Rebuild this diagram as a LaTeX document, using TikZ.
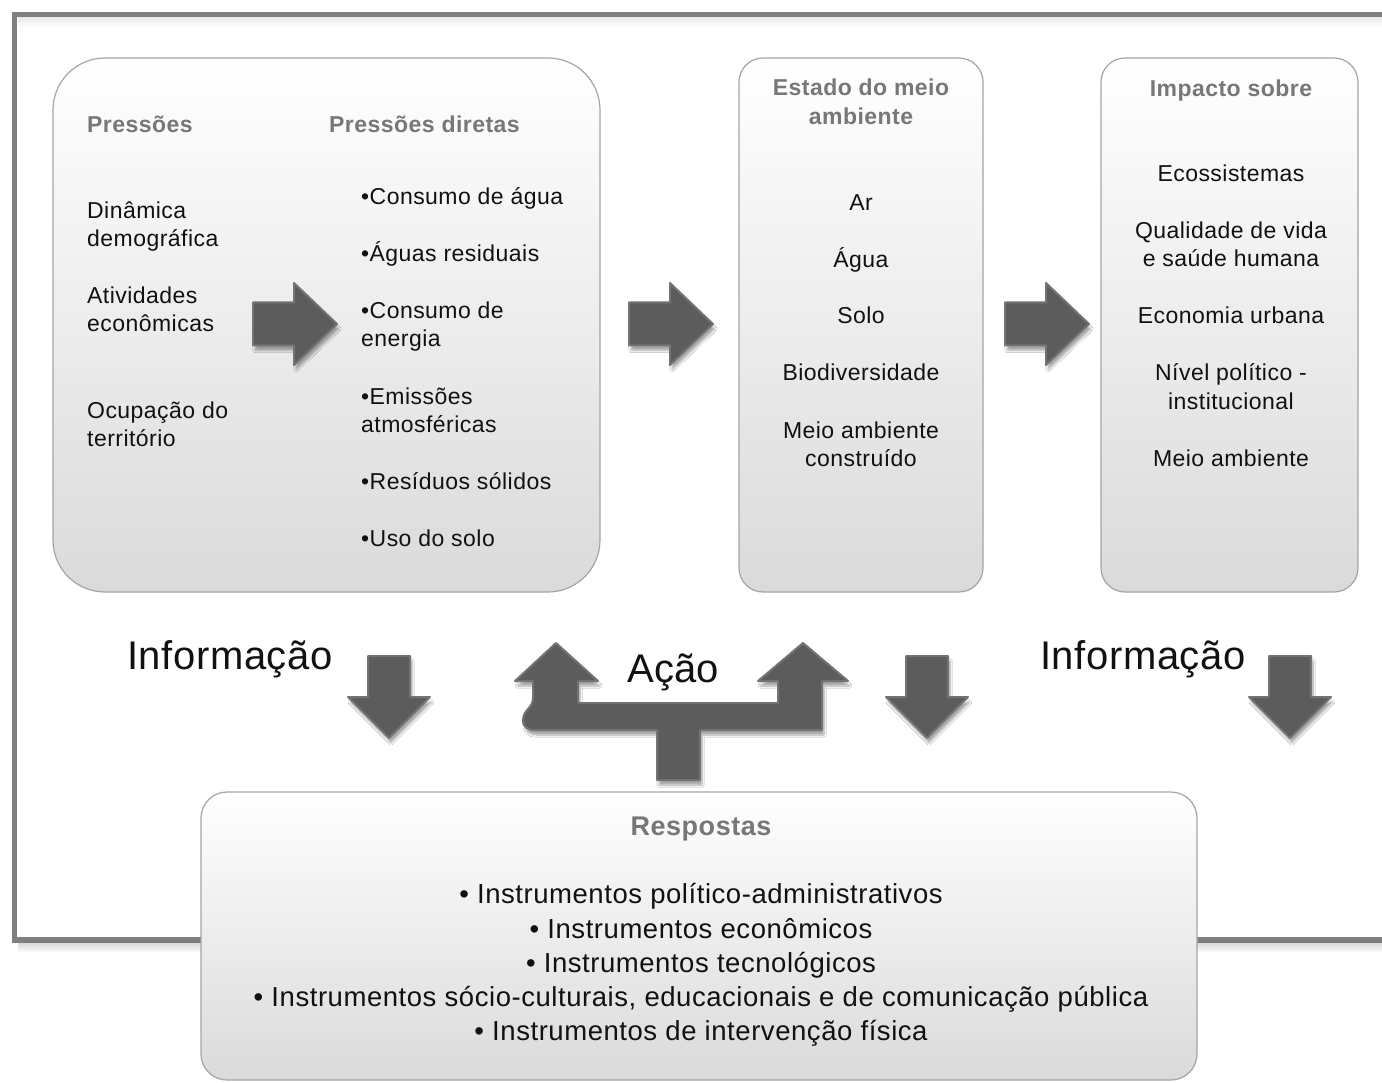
\documentclass[tikz,border=0pt]{standalone}
\usepackage{fontspec}
\setmainfont{Liberation Sans}[LetterSpace=2.0]
\usetikzlibrary{shadows.blur}
\definecolor{framegray}{HTML}{7F7F7F}
\definecolor{hdr}{HTML}{777777}
\definecolor{txt}{HTML}{111111}
\definecolor{arr}{HTML}{5C5C5C}
\definecolor{arredge}{HTML}{737373}
\definecolor{boxbot}{HTML}{DADADA}
\definecolor{boxline}{HTML}{A5A5A5}
\begin{document}
\begin{tikzpicture}[x=1pt,y=-1pt,
  box/.style={draw=boxline, line width=1.2pt, top color=white, bottom color=boxbot, inner sep=0pt},
  hd/.style={font=\fontsize{23}{27}\selectfont\bfseries, text=hdr, inner sep=0pt},
  bt/.style={font=\fontsize{23}{27}\selectfont, text=txt, inner sep=0pt},
  rt/.style={font=\fontsize{27.5}{32}\selectfont, text=txt, inner sep=0pt},
  big/.style={font=\fontsize{40}{46}\selectfont\addfontfeatures{LetterSpace=1.5}, text=txt, inner sep=0pt},
  arrstyle/.style={fill=arr, draw=arredge, line width=2pt, line join=round,
    blur shadow={shadow xshift=2pt, shadow yshift=-5pt, shadow blur steps=8, shadow opacity=35}},
  rarr/.pic={\path[arrstyle] (0,-21.5) -- (41,-21.5) -- (41,-41) -- (84,0) -- (41,41) -- (41,21.5) -- (0,21.5) -- cycle;},
  darr/.pic={\path[arrstyle] (-21,0) -- (21,0) -- (21,41) -- (41,41) -- (0,82) -- (-41,41) -- (-21,41) -- cycle;},
]
\useasboundingbox (0,0) rectangle (1382,1083);
\fill[white] (0,0) rectangle (1382,1083);

% outer frame with soft shadows
\foreach \i in {1,...,10}{
  \draw[black, opacity={0.16-0.015*\i}, line width=1pt] (18,942+\i) -- (1382,942+\i);
  \draw[black, opacity={0.10-0.009*\i}, line width=1pt] (18,17+\i) -- (1382,17+\i);
}
\draw[framegray, line width=5.5pt] (14.5,14.5) rectangle (1392,940);

% boxes
\node[box, rounded corners=52pt, minimum width=547, minimum height=534] (pbox) at (326.5,325) {};
\node[box, rounded corners=24pt, minimum width=244, minimum height=534] (ebox) at (861,325) {};
\node[box, rounded corners=24pt, minimum width=257, minimum height=534] (ibox) at (1229.5,325) {};
\node[box, rounded corners=26pt, minimum width=996, minimum height=288] (rbox) at (699,936) {};

% box 1 text
\node[hd, anchor=base west] (h1) at (87,133) {Pressões};
\node[hd, anchor=base west] (h2) at (329,133) {Pressões diretas};
\node[bt, anchor=base west] (l1) at (87,219) {Dinâmica};
\node[bt, anchor=base west] (l2) at (87,247) {demográfica};
\node[bt, anchor=base west] (l3) at (87,304) {Atividades};
\node[bt, anchor=base west] (l4) at (87,332) {econômicas};
\node[bt, anchor=base west] (l5) at (87,418) {Ocupação do};
\node[bt, anchor=base west] (l6) at (87,446) {território};
\node[bt, anchor=base west] (r1) at (361,205) {•Consumo de água};
\node[bt, anchor=base west] (r2) at (361,262) {•Águas residuais};
\node[bt, anchor=base west] (r3) at (361,319) {•Consumo de};
\node[bt, anchor=base west] (r4) at (361,347) {energia};
\node[bt, anchor=base west] (r5) at (361,404) {•Emissões};
\node[bt, anchor=base west] (r6) at (361,432) {atmosféricas};
\node[bt, anchor=base west] (r7) at (361,489) {•Resíduos sólidos};
\node[bt, anchor=base west] (r8) at (361,546) {•Uso do solo};

% box 2 text
\node[hd, anchor=base] (e0) at (861,96) {Estado do meio};
\node[hd, anchor=base] (e0b) at (861,125) {ambiente};
\node[bt, anchor=base] (e1) at (861,211) {Ar};
\node[bt, anchor=base] (e2) at (861,268) {Água};
\node[bt, anchor=base] (e3) at (861,324) {Solo};
\node[bt, anchor=base] (e4) at (861,381) {Biodiversidade};
\node[bt, anchor=base] (e5) at (861,438) {Meio ambiente};
\node[bt, anchor=base] (e6) at (861,466) {construído};

% box 3 text
\node[hd, anchor=base] (i0) at (1231,97) {Impacto sobre};
\node[bt, anchor=base] (i1) at (1231,182) {Ecossistemas};
\node[bt, anchor=base] (i2) at (1231,239) {Qualidade de vida};
\node[bt, anchor=base] (i3) at (1231,267) {e saúde humana};
\node[bt, anchor=base] (i4) at (1231,324) {Economia urbana};
\node[bt, anchor=base] (i5) at (1231,381) {Nível político -};
\node[bt, anchor=base] (i6) at (1231,409) {institucional};
\node[bt, anchor=base] (i7) at (1231,466) {Meio ambiente};

% respostas text
\node[hd, font=\fontsize{27}{30}\selectfont\bfseries, anchor=base] (s0) at (701,835) {Respostas};
\node[rt, anchor=base] (s1) at (701,903) {• Instrumentos político-administrativos};
\node[rt, anchor=base] (s2) at (701,938) {• Instrumentos econômicos};
\node[rt, anchor=base] (s3) at (701,972) {• Instrumentos tecnológicos};
\node[rt, anchor=base] (s4) at (701,1006) {• Instrumentos sócio-culturais, educacionais e de comunicação pública};
\node[rt, anchor=base] (s5) at (701,1040) {• Instrumentos de intervenção física};

% right arrows
\pic at (253,324) {rarr};
\pic at (629,324) {rarr};
\pic at (1005,324) {rarr};

% down arrows
\pic at (389,656) {darr};
\pic at (927,656) {darr};
\pic at (1290,656) {darr};

% Acao T-arrow
\path[arrstyle] (533,698) -- (533,681) -- (515,681) -- (556,643) -- (598,681) -- (578,681) -- (578,703)
  -- (778,703) -- (778,681) -- (758,681) -- (803,643) -- (848,681) -- (822,681) -- (822,730)
  -- (700,730) -- (700,780) -- (657,780) -- (657,730) -- (535,730)
  .. controls (527,730) and (523,727) .. (523,720)
  .. controls (523,710) and (533,708) .. (533,698) -- cycle;

% big labels
\node[big, anchor=base west] (inf1) at (127,669) {Informação};
\node[big, anchor=base west] (inf2) at (1040,669) {Informação};
\node[big, font=\fontsize{40}{46}\selectfont\addfontfeatures{LetterSpace=0}, anchor=base] (acao) at (673,682) {Ação};
\end{tikzpicture}
\end{document}
